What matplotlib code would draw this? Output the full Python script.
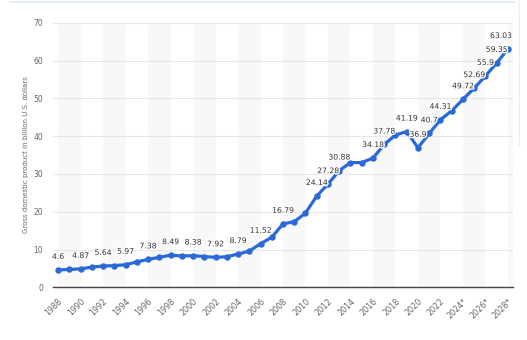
import matplotlib
matplotlib.use("Agg")
import matplotlib.pyplot as plt
import matplotlib.patheffects as pe
from matplotlib.lines import Line2D
from matplotlib.transforms import ScaledTranslation

years = list(range(1988, 2029))
gdp = [4.6, 4.72, 4.87, 5.34, 5.64, 5.73, 5.97, 6.71, 7.38, 7.93,
       8.49, 8.29, 8.38, 8.14, 7.92, 8.09, 8.79, 9.57, 11.52, 13.2,
       16.79, 17.34, 19.65, 24.14, 27.28, 30.88, 32.99, 33.0, 34.18, 37.78,
       40.29, 41.19, 36.9, 40.7, 44.31, 46.7, 49.72, 52.69, 55.9, 59.35,
       63.03]
labelled_years = [1988, 1990, 1992, 1994, 1996, 1998, 2000, 2002, 2004, 2006,
                  2008, 2011, 2012, 2013, 2016, 2017, 2019, 2020, 2021, 2022,
                  2024, 2025, 2026, 2027, 2028]
tick_years = list(range(1988, 2029, 2))
tick_labels = [f"{y}*" if y >= 2024 else str(y) for y in tick_years]
y_ticks = list(range(0, 71, 10))
y_label = "Gross domestic product in billion U.S. dollars"

W, H = 527, 340
fig = plt.figure(figsize=(W / 100, H / 100), dpi=100)
fig.patch.set_facecolor("white")
ax = fig.add_axes([53 / W, (H - 287.3) / H, 460 / W, (287.3 - 22.7) / H])
ax.set_xlim(1987.55, 2028.45)
ax.set_ylim(0, 70)

# alternating bands
for start in range(1988, 2029, 4):
    ax.axvspan(start, start + 2, color="#f8f8f8", zorder=0, lw=0)

ax.set_yticks(y_ticks)
ax.yaxis.grid(True, color="#e6e6e6", lw=0.8, zorder=1)
ax.set_axisbelow(True)
for s in ["top", "right", "left"]:
    ax.spines[s].set_visible(False)
ax.spines["bottom"].set_color("#444444")
ax.spines["bottom"].set_linewidth(1.0)
ax.spines["bottom"].set_zorder(2)

ax.tick_params(axis="y", length=0, pad=7, labelsize=5.5, labelcolor="#666666")
ax.tick_params(axis="x", length=0, pad=9, labelsize=5.8, labelcolor="#666666")
ax.set_xticks(tick_years)
ax.set_xticklabels(tick_labels, rotation=45, ha="right", va="center",
                   rotation_mode="anchor")
off = ScaledTranslation(3 / 100, 0, fig.dpi_scale_trans)
for lab in ax.get_xticklabels():
    lab.set_transform(lab.get_transform() + off)

ax.set_ylabel(y_label, fontsize=5, color="#666666", labelpad=3.5)

ax.plot(years, gdp, color="#2a6ad8", lw=2.3, marker="o", ms=3.6,
        solid_joinstyle="round", zorder=3, clip_on=False)

for yr, v in zip(years, gdp):
    if yr in labelled_years:
        dx = -5 if yr == years[-1] else 0
        t = ax.annotate(f"{v:g}", (yr, v), xytext=(dx, 6.5),
                        textcoords="offset points", ha="center", va="bottom",
                        fontsize=5.5, color="#333333", zorder=4)
        t.set_path_effects([pe.withStroke(linewidth=2, foreground="white")])

# decorative page elements
fig.add_artist(Line2D([10 / W, 515 / W], [1 - 2 / H, 1 - 2 / H],
                      color="#dfe9f5", lw=1.2))
fig.add_artist(Line2D([519 / W, 519 / W], [1, 1 - 145 / H],
                      color="#eeeeee", lw=1.0))

fig.savefig("out.png", dpi=100)
